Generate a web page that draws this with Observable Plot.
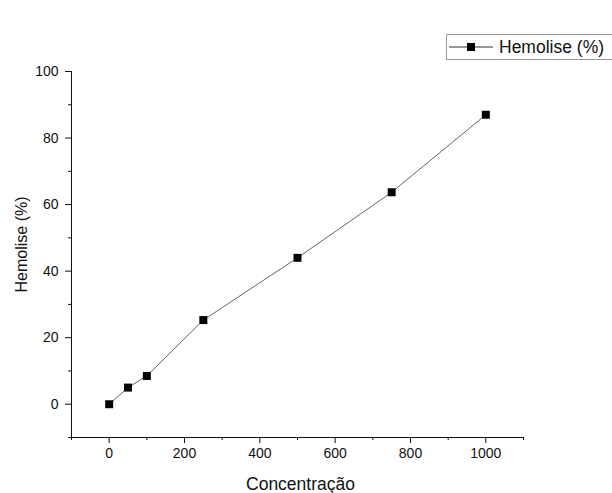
<!DOCTYPE html>
<html>
<head>
<meta charset="utf-8">
<script src="https://cdn.jsdelivr.net/npm/d3@7"></script>
<script src="https://cdn.jsdelivr.net/npm/@observablehq/plot@0.6"></script>
<style>
  html, body { margin: 0; padding: 0; background: #fff; }
  #wrap { position: relative; width: 612px; height: 493px; overflow: hidden; font-family: "Liberation Sans", Arial, sans-serif; }
  #legend { position: absolute; left: 446px; top: 34px; width: 180px; height: 26px; border: 1px solid #999; background: #fff; display: flex; align-items: center; box-sizing: border-box; }
  #legend svg { display: block; }
  #legend span { font-size: 17.5px; color: #111; margin-left: 4px; white-space: nowrap; }
</style>
</head>
<body>
<div id="wrap"></div>
<script>
const seriesName = "Hemolise (%)";
const concentracao = [0, 50, 100, 250, 500, 750, 1000];
const hemolise = [0, 5, 8.5, 25.3, 44, 63.7, 87];
const xTicksMajor = [0, 200, 400, 600, 800, 1000];
const xTicksMinor = [-100, 100, 300, 500, 700, 900, 1100];
const yTicksMajor = [0, 20, 40, 60, 80, 100];
const yTicksMinor = [-10, 10, 30, 50, 70, 90];
const xTitle = "Concentração";
const yTitle = "Hemolise (%)";

const data = concentracao.map((c, i) => ({x: c, y: hemolise[i]}));

const chart = Plot.plot({
  width: 612,
  height: 493,
  marginLeft: 71,
  marginRight: 89,
  marginTop: 71,
  marginBottom: 56,
  style: {fontFamily: "'Liberation Sans', Arial, sans-serif", color: "#111", background: "#fff"},
  x: {domain: [-100, 1100], axis: null},
  y: {domain: [-10, 100], axis: null},
  marks: [
    Plot.ruleY([-10], {stroke: "#111", strokeWidth: 1}),
    Plot.ruleX([-100], {stroke: "#111", strokeWidth: 1}),
    Plot.axisX(xTicksMajor, {anchor: "bottom", tickSize: 6, tickPadding: 5, fontSize: 14, tickFormat: d => String(d), label: null, stroke: "#111"}),
    Plot.axisX(xTicksMinor, {anchor: "bottom", tickSize: 3, text: null, label: null, stroke: "#111"}),
    Plot.axisY(yTicksMajor, {anchor: "left", tickSize: 6, tickPadding: 7, fontSize: 14, tickFormat: d => String(d), label: null, stroke: "#111"}),
    Plot.axisY(yTicksMinor, {anchor: "left", tickSize: 3, text: null, label: null, stroke: "#111"}),
    Plot.text([xTitle], {frameAnchor: "bottom", textAnchor: "middle", lineAnchor: "middle", dx: 3, dy: 47, fontSize: 17.5, fill: "#111"}),
    Plot.text([yTitle], {frameAnchor: "left", textAnchor: "middle", lineAnchor: "middle", dx: -50, dy: -10, rotate: -90, fontSize: 16, fill: "#111"}),
    Plot.line(data, {x: "x", y: "y", stroke: "#666", strokeWidth: 1}),
    Plot.dot(data, {x: "x", y: "y", symbol: "square", r: 4.5, fill: "#000", stroke: "none"})
  ]
});

const wrap = document.getElementById("wrap");
wrap.appendChild(chart);

const legend = document.createElement("div");
legend.id = "legend";
legend.innerHTML = '<svg width="48" height="20"><line x1="2" y1="10" x2="46" y2="10" stroke="#333" stroke-width="1"/><rect x="20" y="6" width="8" height="8" fill="#000"/></svg><span></span>';
legend.querySelector("span").textContent = seriesName;
wrap.appendChild(legend);
</script>
</body>
</html>
